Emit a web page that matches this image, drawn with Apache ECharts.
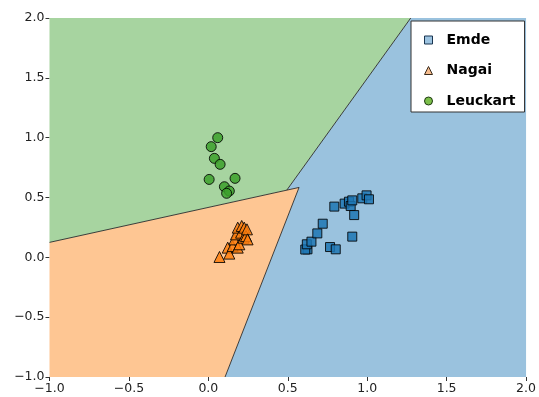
<!DOCTYPE html>
<html>
<head>
<meta charset="utf-8">
<script src="https://cdn.jsdelivr.net/npm/echarts@6/dist/echarts.min.js"></script>
<style>html,body{margin:0;padding:0;background:#fff}#c{width:539px;height:397px}</style>
</head>
<body>
<div id="c"></div>
<script>
// Class names
const classNames = ['Emde', 'Nagai', 'Leuckart'];

// Sample points [x, y]
const emdePoints = [
  [0.624, 0.067], [0.610, 0.065], [0.620, 0.109], [0.649, 0.131], [0.686, 0.200],
  [0.720, 0.281], [0.766, 0.086], [0.802, 0.067], [0.793, 0.424], [0.858, 0.449],
  [0.885, 0.465], [0.896, 0.429], [0.906, 0.476], [0.918, 0.353], [0.906, 0.173],
  [0.969, 0.493], [0.996, 0.518], [1.011, 0.485]
];
const nagaiPoints = [
  [0.070, 0.003], [0.122, 0.081], [0.132, 0.031], [0.153, 0.094], [0.164, 0.150],
  [0.185, 0.081], [0.195, 0.109], [0.174, 0.192], [0.185, 0.248], [0.206, 0.206],
  [0.210, 0.262], [0.222, 0.164], [0.226, 0.248], [0.237, 0.178], [0.243, 0.234],
  [0.247, 0.150]
];
const leuckartPoints = [
  [0.059, 1.000], [0.018, 0.925], [0.038, 0.827], [0.074, 0.777], [0.005, 0.651],
  [0.168, 0.660], [0.101, 0.590], [0.132, 0.554], [0.115, 0.535]
];

// Decision regions (polygon vertices in data units)
const regionEmde = [[0.105, -1], [2, -1], [2, 2], [1.274, 2], [0.494, 0.562], [0.571, 0.584]];
const regionNagai = [[-1, -1], [0.105, -1], [0.571, 0.584], [0.494, 0.562], [-1, 0.125]];
const regionLeuckart = [[-1, 0.125], [0.494, 0.562], [1.274, 2], [-1, 2]];

// Decision boundaries (segments)
const boundaries = [
  [[-1, 0.125], [0.571, 0.584]],
  [[0.494, 0.562], [1.274, 2]],
  [[0.571, 0.584], [0.105, -1]]
];

// Axis ticks
const xTicks = [-1.0, -0.5, 0.0, 0.5, 1.0, 1.5, 2.0];
const yTicks = [-1.0, -0.5, 0.0, 0.5, 1.0, 1.5, 2.0];

const regionColors = ['#9ac2de', '#fec693', '#a7d4a0'];
const markerColors = ['#1f77b4', '#ff7f0e', '#3ca02c'];

function fmt(v) {
  const s = v.toFixed(1);
  return v < 0 ? '\u2212' + s.slice(1) : s;
}

function polySeries(poly, color) {
  return {
    type: 'custom',
    coordinateSystem: 'cartesian2d',
    silent: true,
    z: 1,
    data: [[poly[0][0], poly[0][1]]],
    renderItem: function (params, api) {
      return {
        type: 'polygon',
        shape: { points: poly.map(p => api.coord(p)) },
        style: { fill: color, stroke: null }
      };
    }
  };
}

const boundarySeries = {
  type: 'custom',
  coordinateSystem: 'cartesian2d',
  silent: true,
  z: 2,
  data: boundaries.map((b, i) => [b[0][0], b[0][1], i]),
  renderItem: function (params, api) {
    const seg = boundaries[params.dataIndex];
    const p1 = api.coord(seg[0]), p2 = api.coord(seg[1]);
    return {
      type: 'line',
      shape: { x1: p1[0], y1: p1[1], x2: p2[0], y2: p2[1] },
      style: { stroke: '#2a2a2a', lineWidth: 0.9 }
    };
  }
};

function scatter(name, data, symbol, size, color) {
  return {
    name: name,
    type: 'scatter',
    z: 5,
    symbol: symbol,
    symbolSize: size,
    data: data,
    itemStyle: { color: color, opacity: 0.85, borderColor: '#000', borderWidth: 1 }
  };
}

const axisCommon = {
  type: 'value', min: -1, max: 2, interval: 0.5,
  axisLine: { show: false, onZero: false },
  splitLine: { show: false },
  axisTick: { show: true, length: 4, lineStyle: { color: '#333', width: 1 } }
};

const chart = echarts.init(document.getElementById('c'), null, { renderer: 'canvas' });
chart.setOption({
  animation: false,
  backgroundColor: '#fff',
  grid: { left: 49.5, right: 11, top: 18, bottom: 20, containLabel: false },
  xAxis: Object.assign({}, axisCommon, {
    position: 'bottom',
    axisLabel: {
      color: '#222', fontFamily: 'DejaVu Sans', fontSize: 12.5, margin: 5,
      formatter: v => fmt(xTicks.find(t => Math.abs(t - v) < 1e-9) ?? v)
    }
  }),
  yAxis: Object.assign({}, axisCommon, {
    position: 'left',
    axisLabel: {
      color: '#222', fontFamily: 'DejaVu Sans', fontSize: 12.5, margin: 5,
      formatter: v => fmt(yTicks.find(t => Math.abs(t - v) < 1e-9) ?? v)
    }
  }),
  legend: {
    orient: 'vertical',
    left: 411, top: 21,
    padding: [11, 9, 3, 13],
    backgroundColor: '#fff',
    borderColor: '#333', borderWidth: 1, borderRadius: 0,
    itemWidth: 8, itemHeight: 8, itemGap: 14.5,
    textStyle: { fontFamily: 'DejaVu Sans', fontWeight: 'bold', fontSize: 14, color: '#000', lineHeight: 16, padding: [0, 0, 0, 9] },
    data: [
      { name: 'Emde', icon: 'rect', itemStyle: { color: '#9cc3e0', borderColor: '#1a3550', borderWidth: 1, opacity: 1 } },
      { name: 'Nagai', icon: 'triangle', itemStyle: { color: '#f7bd8f', borderColor: '#3a2a1a', borderWidth: 1, opacity: 1 } },
      { name: 'Leuckart', icon: 'circle', itemStyle: { color: '#7cbf4b', borderColor: '#1e3a12', borderWidth: 1, opacity: 1 } }
    ]
  },
  series: [
    polySeries(regionEmde, regionColors[0]),
    polySeries(regionNagai, regionColors[1]),
    polySeries(regionLeuckart, regionColors[2]),
    boundarySeries,
    scatter(classNames[0], emdePoints, 'rect', 9, markerColors[0]),
    scatter(classNames[1], nagaiPoints, 'triangle', 11, markerColors[1]),
    scatter(classNames[2], leuckartPoints, 'circle', 10, markerColors[2])
  ]
});
</script>
</body>
</html>
